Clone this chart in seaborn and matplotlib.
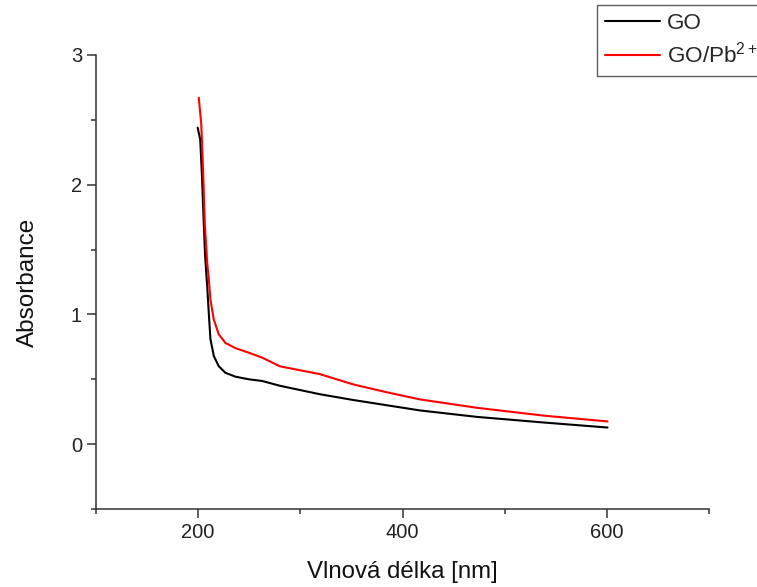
import matplotlib
matplotlib.use("Agg")
import matplotlib.pyplot as plt
import seaborn as sns
import pandas as pd
from matplotlib.ticker import MultipleLocator

# Data
wl_go = [199.5, 202, 203.6, 205.2, 206.8, 208.8, 210.4, 212, 215.3, 220.2, 226.7, 236.5,
         249.5, 262.6, 280, 319, 352, 384.5, 417, 473, 538, 600.7]
abs_go = [2.44, 2.35, 2.09, 1.76, 1.45, 1.22, 1.01, 0.81, 0.68, 0.60, 0.55, 0.52,
          0.50, 0.487, 0.45, 0.385, 0.34, 0.30, 0.26, 0.21, 0.167, 0.128]

wl_gopb = [200.6, 203, 204.9, 206.5, 208.8, 210.4, 212, 215.3, 220.2, 226.7, 236.5,
           249.5, 262.6, 280, 319, 352, 384.5, 417, 473, 538, 600.7]
abs_gopb = [2.67, 2.47, 2.09, 1.70, 1.40, 1.27, 1.115, 0.96, 0.846, 0.78, 0.74,
            0.705, 0.667, 0.60, 0.54, 0.46, 0.40, 0.345, 0.28, 0.22, 0.175]

labels = ["GO", "GO/Pb$^{2+}$"]
colors = ["#000000", "#ff0000"]

df = pd.concat([
    pd.DataFrame({"wl": wl_go, "A": abs_go, "s": labels[0]}),
    pd.DataFrame({"wl": wl_gopb, "A": abs_gopb, "s": labels[1]}),
], ignore_index=True)

sns.set_theme(style="ticks")
plt.rcParams["font.family"] = ["Liberation Sans", "DejaVu Sans"]
plt.rcParams["mathtext.default"] = "regular"

fig = plt.figure(figsize=(7.57, 5.87), dpi=100)
ax = fig.add_axes([96/757, 1-509/587, (709-96)/757, (509-55)/587])

sns.lineplot(data=df, x="wl", y="A", hue="s", palette=dict(zip(labels, colors)),
             ax=ax, linewidth=1.5, sort=False, estimator=None)

ax.set_xlim(100, 700)
ax.set_ylim(-0.5, 3)
ax.xaxis.set_major_locator(MultipleLocator(200))
ax.xaxis.set_minor_locator(MultipleLocator(100))
ax.yaxis.set_major_locator(MultipleLocator(1))
ax.yaxis.set_minor_locator(MultipleLocator(0.5))
ax.set_xticks([200, 400, 600])

for side in ["top", "right"]:
    ax.spines[side].set_visible(False)
for side in ["left", "bottom"]:
    ax.spines[side].set_linewidth(1.1)
    ax.spines[side].set_color("#333333")

ax.tick_params(which="major", length=6.5, width=1.1, color="#333333", labelsize=14.5, labelcolor="#222222", direction="out")
ax.tick_params(which="minor", length=3.3, width=1.1, color="#333333", direction="out")

ax.set_xlabel("Vlnová délka [nm]", fontsize=17.3, color="#111111", labelpad=14)
ax.set_ylabel("Absorbance", fontsize=17.5, color="#111111", labelpad=23)

handles, labs = ax.get_legend_handles_labels()
ax.get_legend().remove()
leg = fig.legend(handles, labs, loc="upper left", bbox_to_anchor=(597/757, 1-5/587),
                 bbox_transform=fig.transFigure, fontsize=16.2, frameon=True,
                 fancybox=False, edgecolor="#333333", borderpad=0.35,
                 handlelength=2.45, handletextpad=0.3, labelspacing=0.35,
                 borderaxespad=0)
leg.get_frame().set_linewidth(1.0)
for l in leg.get_lines():
    l.set_linewidth(1.5)

fig.savefig("out.png", dpi=100)
